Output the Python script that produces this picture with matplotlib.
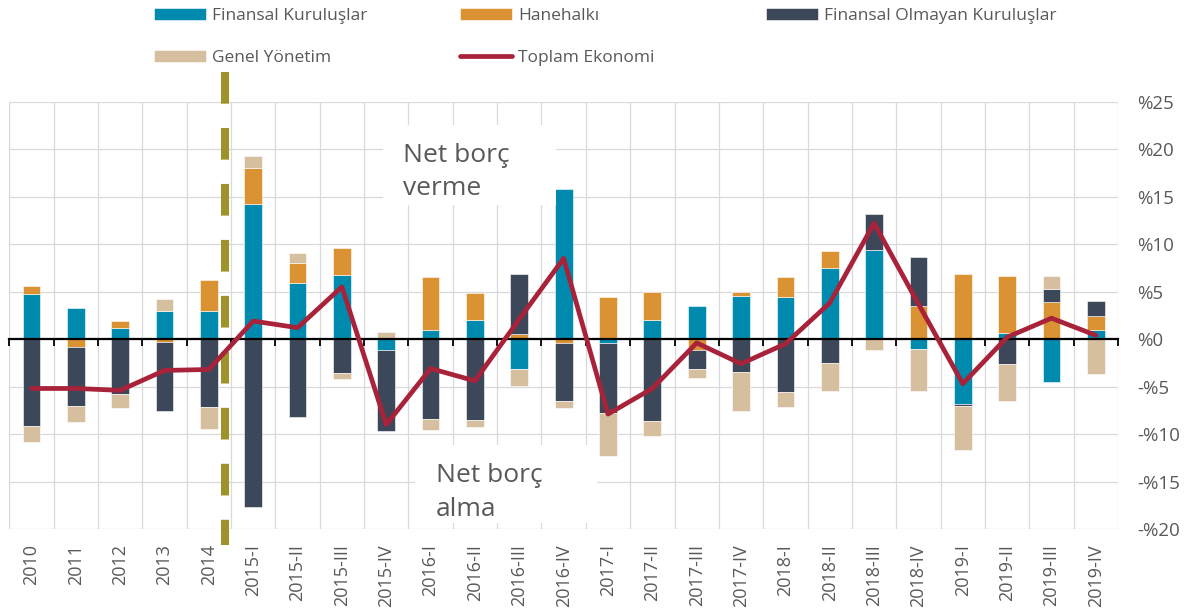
import numpy as np
import matplotlib.pyplot as plt
from matplotlib.patches import Rectangle

plt.rcParams['font.family'] = ['Open Sans', 'DejaVu Sans']

donemler = ['2010', '2011', '2012', '2013', '2014',
            '2015-I', '2015-II', '2015-III', '2015-IV',
            '2016-I', '2016-II', '2016-III', '2016-IV',
            '2017-I', '2017-II', '2017-III', '2017-IV',
            '2018-I', '2018-II', '2018-III', '2018-IV',
            '2019-I', '2019-II', '2019-III', '2019-IV']

# yüzde değerler
finansal = [4.8, 3.3, 1.2, 3.0, 3.0, 14.2, 5.9, 6.7, -1.2, 1.0, 2.0, -3.1, 15.8,
            -0.4, 2.0, 3.5, 4.5, 4.4, 7.5, 9.4, -1.0, -6.8, 0.6, -4.5, 1.0]
hanehalki = [0.8, -0.8, 0.7, -0.3, 3.2, 3.8, 2.1, 2.9, 0.0, 5.5, 2.9, 0.5, -0.4,
             4.4, 3.0, -1.1, 0.5, 2.1, 1.8, 0.0, 3.5, 6.9, 6.0, 3.9, 1.4]
finansal_olmayan = [-9.2, -6.2, -5.8, -7.3, -7.1, -17.7, -8.2, -3.6, -8.5, -8.4, -8.5, 6.4, -6.1,
                    -7.4, -8.6, -2.0, -3.5, -5.6, -2.5, 3.8, 5.1, -0.2, -2.6, 1.4, 1.6]
genel_yonetim = [-1.6, -1.7, -1.5, 1.2, -2.4, 1.3, 1.1, -0.6, 0.7, -1.2, -0.8, -1.8, -0.8,
                 -4.5, -1.6, -1.0, -4.1, -1.5, -3.0, -1.1, -4.5, -4.7, -3.9, 1.3, -3.7]
toplam = [-5.2, -5.2, -5.4, -3.3, -3.2, 1.9, 1.2, 5.5, -9.0, -3.1, -4.4, 2.1, 8.5,
          -7.9, -5.2, -0.4, -2.6, -0.5, 3.8, 12.2, 3.7, -4.7, 0.2, 2.2, 0.4]

seriler = [
    ('Finansal Kuruluşlar', finansal, '#008BAE'),
    ('Hanehalkı', hanehalki, '#DB9232'),
    ('Finansal Olmayan Kuruluşlar', finansal_olmayan, '#3C4759'),
    ('Genel Yönetim', genel_yonetim, '#D5BF9E'),
]

GRI = '#595959'


def main():
    fig = plt.figure(figsize=(11.9, 6.14), dpi=100)
    ax = fig.add_axes([9.3 / 1190, 1 - 529 / 614, 1108.7 / 1190, 427.3 / 614])

    x = np.arange(len(donemler))
    pozitif = np.zeros(len(x))
    negatif = np.zeros(len(x))
    kutular = {}
    for ad, deger, renk in seriler:
        d = np.array(deger)
        alt = np.where(d >= 0, pozitif, negatif)
        kutular[ad] = ax.bar(x, d, 0.4, bottom=alt, color=renk, edgecolor='white',
                             linewidth=0.4, label=ad, zorder=2)
        pozitif += np.clip(d, 0, None)
        negatif += np.clip(d, None, 0)

    cizgi, = ax.plot(x, toplam, color='#A8223A', lw=3.4, solid_joinstyle='round',
                     solid_capstyle='round', zorder=6, label='Toplam Ekonomi')

    # eksenler ve ızgara
    ax.set_xlim(-0.5, len(x) - 0.5)
    ax.set_ylim(-20, 25)
    ax.set_yticks(range(-20, 30, 5))
    ax.set_yticklabels([('-%' + str(-v)) if v < 0 else '%' + str(v) for v in range(-20, 30, 5)])
    ax.yaxis.tick_right()
    ax.set_xticks(x)
    ax.set_xticklabels(donemler, rotation=90)
    ax.set_xticks(np.arange(-0.5, len(x), 1), minor=True)
    ax.tick_params(axis='x', which='both', length=0, pad=11, labelsize=13, labelcolor=GRI)
    ax.tick_params(axis='y', length=0, pad=14, labelsize=13.5, labelcolor=GRI)
    ax.grid(axis='y', which='major', color='#D9D9D9', lw=0.9, zorder=0)
    ax.grid(axis='x', which='minor', color='#D9D9D9', lw=0.9, zorder=0)
    ax.set_axisbelow(True)
    for s in ax.spines.values():
        s.set_visible(False)

    # sıfır çizgisi
    sifir = ax.secondary_xaxis(0, transform=ax.transData)
    sifir.set_xticks(np.arange(-0.5, len(x), 1))
    sifir.tick_params(length=5, width=1.3, color='black', labelbottom=False)
    sifir.spines['bottom'].set_linewidth(1.6)
    sifir.set_zorder(4)

    # 2014 / 2015 ayırıcı
    ax.plot([4.36, 4.36], [1.0695, -0.037], transform=ax.get_xaxis_transform(),
            color='#A0922A', lw=5.8, dashes=(22.8 / 5.8, 17.5 / 5.8), clip_on=False, zorder=5)

    # açıklama kutuları
    ax.add_patch(Rectangle((7.93, 14.1), 3.9, 8.45, facecolor='white', edgecolor='none', zorder=3))
    ax.add_patch(Rectangle((8.65, -19.4), 4.1, 8.2, facecolor='white', edgecolor='none', zorder=3))
    ax.text(8.38, 20.7, 'Net borç\nverme', fontsize=19, color=GRI, va='top', ha='left',
            linespacing=1.45, zorder=4)
    ax.text(9.12, -13.1, 'Net borç\nalma', fontsize=19, color=GRI, va='top', ha='left',
            linespacing=1.45, zorder=4)

    # lejant
    kolonlar = [
        (154, [kutular['Finansal Kuruluşlar'], kutular['Genel Yönetim']]),
        (460, [kutular['Hanehalkı'], cizgi]),
        (766, [kutular['Finansal Olmayan Kuruluşlar']]),
    ]
    for px, hs in kolonlar:
        fig.legend(handles=hs, loc='upper left', bbox_to_anchor=(px / 1190, 1 - 8 / 614),
                   frameon=False, fontsize=12.5, labelcolor=GRI, handlelength=3.0,
                   handleheight=0.7, handletextpad=0.35, labelspacing=1.5,
                   borderpad=0, borderaxespad=0)

    fig.savefig('out.png', dpi=100)


if __name__ == '__main__':
    main()
